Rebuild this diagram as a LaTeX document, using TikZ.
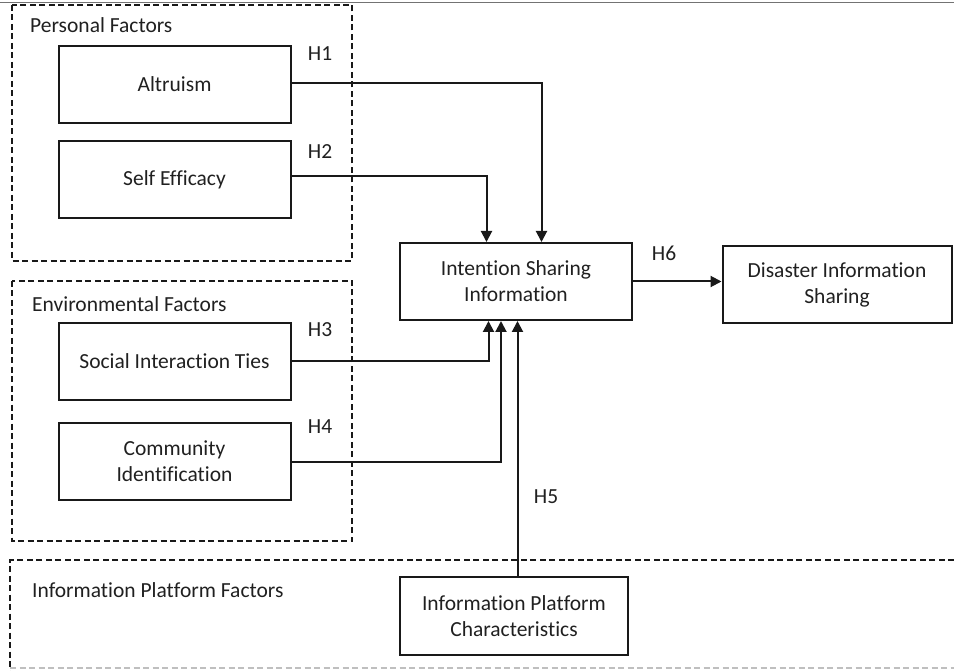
\documentclass[tikz,border=0pt]{standalone}
\usepackage{fontspec}
\setmainfont{Carlito}[Ligatures={NoCommon}]
\usetikzlibrary{arrows.meta}
\definecolor{txt}{HTML}{202020}
\tikzset{
  box/.style={draw=black!90, line width=2pt, minimum width=232pt, minimum height=77pt,
    inner sep=0pt, align=center, text=txt, font=\fontsize{21.5}{26}\selectfont},
  grp/.style={draw=black!90, line width=1.7pt, dash pattern=on 6pt off 3.5pt},
  lbl/.style={text=txt, font=\fontsize{21.5}{26}\selectfont, inner sep=0pt},
  arr/.style={draw=black!90, line width=2pt, -{Triangle[length=11pt,width=11pt]}},
  ln/.style={draw=black!90, line width=2pt}
}
\begin{document}
\begin{tikzpicture}[x=1pt,y=-1pt]
\useasboundingbox (0,0) rectangle (954,671);
% top page edge
\draw[black!55, line width=1pt] (0,3) -- (954,3);
% group frames
\draw[grp] (12,5) rectangle (352,261);
\draw[grp] (12,281) rectangle (352,541);
\draw[grp] (954,560) -- (10,560) -- (10,671);
\draw[grp, draw=black!25] (10,668) -- (954,668);
% group labels
\node[lbl, anchor=west] (pf) at (30,25) {Personal Factors};
\node[lbl, anchor=west] (ef) at (32,304) {Environmental Factors};
\node[lbl, anchor=west] (ipf) at (32,590) {Information Platform Factors};
% boxes
\node[box] (alt) at (174.5,84.5) {Altruism};
\node[box] (se) at (174.5,179.5) {Self Efficacy};
\node[box] (sit) at (174.5,361.5) {Social Interaction Ties};
\node[box] (ci) at (174.5,461.5) {Community\\Identification};
\node[box] (isi) at (516,281.5) {Intention Sharing\\Information};
\node[box, minimum width=229pt] (dis) at (837,285) {Disaster Information\\Sharing};
\node[box, minimum width=228pt, minimum height=78pt] (ipc) at (514,616) {Information Platform\\Characteristics};
% hypothesis labels
\node[lbl] (h1) at (320,54) {H1};
\node[lbl] (h2) at (320,152) {H2};
\node[lbl] (h3) at (320,330) {H3};
\node[lbl] (h4) at (320,427) {H4};
\node[lbl] (h5) at (546,497) {H5};
\node[lbl] (h6) at (664,253) {H6};
% connector targets
\coordinate (t1) at ([xshift=25.5pt]isi.north);
\coordinate (t2) at ([xshift=-29.5pt]isi.north);
\coordinate (t3) at ([xshift=-27.5pt]isi.south);
\coordinate (t4) at ([xshift=-15pt]isi.south);
\coordinate (t5) at ([xshift=1.5pt]isi.south);
% connectors
\draw[arr] ([yshift=1.5pt]alt.east) -| (t1);
\draw[arr] ([yshift=3pt]se.east) -| (t2);
\draw[arr] ([yshift=1pt]sit.east) -| (t3);
\draw[arr] (ci.east) -| (t4);
\draw[arr] (ipc.north -| t5) -- (t5);
\draw[arr] (isi.east) -- (isi.east -| dis.west);
\end{tikzpicture}
\end{document}
